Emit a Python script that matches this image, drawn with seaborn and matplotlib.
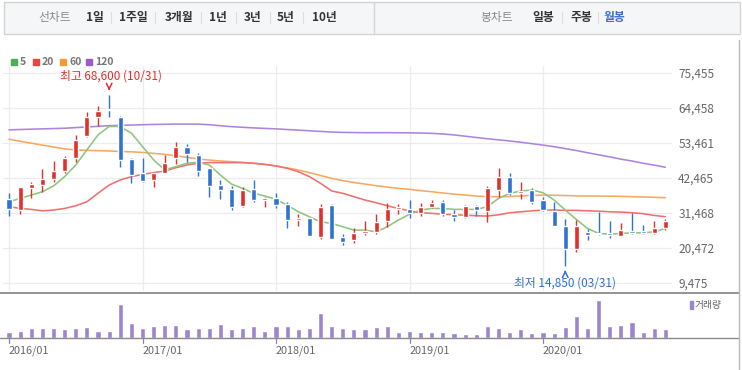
import numpy as np
import pandas as pd
import matplotlib
matplotlib.use("Agg")
import matplotlib.pyplot as plt
import seaborn as sns
from matplotlib.patches import Rectangle
from matplotlib.lines import Line2D

# monthly candles 2016/01 .. 2020/12
months = [str(p).replace("-", "/") for p in pd.period_range("2016-01", "2020-12", freq="M")]

opens = [35750, 32400, 39400, 40250, 42050, 44650, 48650, 55700, 61600, 64000, 61600, 48450,
         44150, 41850, 44150, 48650, 52150, 49700, 45500, 40250, 38900, 33650, 38900, 35550,
         36250, 34250, 29250, 29750, 23950, 33950, 23950, 22900, 25250, 25450, 28900, 32600,
         32600, 31350, 33450, 35000, 31100, 30300, 33650, 32050, 38700, 42900, 37850, 38700,
         35550, 32150, 27450, 20100, 25450, 25250, 25050, 24300, 25850, 25950, 25250, 26800]
highs = [37650, 39750, 41300, 45200, 47950, 49500, 56000, 63150, 64950, 68600, 61800, 48650,
         48900, 44350, 49700, 53900, 53200, 50450, 45700, 41850, 39950, 39750, 41850, 36600,
         37650, 35000, 31100, 29850, 34250, 34250, 24800, 26600, 29000, 31100, 34700, 34250,
         35550, 34700, 35550, 35550, 32400, 33950, 33950, 39950, 45500, 43950, 41300, 39200,
         36600, 35000, 29550, 29250, 26300, 31650, 28900, 28200, 31550, 27850, 29000, 29450]
lows = [30600, 31100, 36050, 38150, 41300, 43950, 47600, 55300, 58650, 61600, 45850, 40800,
        41300, 39500, 43950, 46900, 47600, 43100, 36450, 35750, 32400, 33200, 35000, 33450,
        32900, 26900, 27450, 24200, 23250, 23250, 21550, 22100, 24700, 25000, 27150, 31100,
        30050, 30600, 33100, 30600, 28900, 29950, 30500, 28700, 36450, 37100, 35750, 34250,
        32150, 27450, 14850, 19250, 22900, 24500, 23650, 24200, 25000, 25000, 25000, 26100]
closes = [32600, 39500, 40600, 42050, 44800, 48900, 54450, 61600, 63600, 63700, 48150, 43400,
          41650, 44150, 47100, 52150, 49950, 44800, 39950, 38700, 33450, 38700, 35550, 36150,
          33950, 29250, 30050, 24300, 33450, 23450, 22400, 25250, 25850, 28600, 32600, 33200,
          31550, 33200, 34700, 31100, 30300, 33650, 32400, 39400, 42700, 37850, 38450, 35000,
          32400, 27450, 20300, 27450, 24600, 24800, 24600, 26100, 25250, 25250, 26800, 29000]

# moving averages
ma5 = [35000, 36050, 37100, 38150, 39950, 42900, 46550, 51300, 56000, 58650, 58650, 56550,
       52350, 48150, 45000, 46050, 47100, 47400, 46550, 43400, 40550, 39200, 37650, 36800,
       35750, 33950, 31850, 30300, 28700, 28200, 27150, 26100, 26100, 25550, 27150, 29250,
       31100, 32400, 32900, 32900, 32600, 32600, 32600, 33450, 36050, 37650, 38350, 38700,
       37850, 35550, 32400, 29450, 26600, 25050, 24800, 25050, 25250, 25250, 25550, 26600]
ma20 = [33450, 32900, 32600, 32150, 32400, 32900, 33750, 35000, 37650, 40250, 41850, 42900,
        43600, 44150, 44650, 45700, 46550, 47100, 47300, 47300, 47300, 47300, 47100, 46750,
        46250, 45500, 44450, 42900, 40800, 38400, 37650, 36600, 35550, 34700, 33750, 32900,
        32150, 31550, 31350, 31100, 30900, 30800, 30600, 30500, 30900, 31550, 31850, 32150,
        32400, 32400, 32300, 32300, 32150, 32050, 31850, 31750, 31550, 31250, 30700, 30300]
ma60 = [54650, 54000, 53400, 52800, 52200, 51600, 51300, 51150, 51050, 50950, 50800, 50700,
        50500, 50200, 49900, 49450, 48950, 48450, 48100, 47800, 47600, 47350, 47100, 46700,
        46250, 45650, 45000, 44150, 43250, 42350, 41650, 41050, 40550, 40050, 39600, 39200,
        38900, 38500, 38150, 37750, 37400, 37100, 36800, 36600, 36550, 36650, 36850, 37000,
        37100, 37050, 36950, 36850, 36800, 36780, 36750, 36700, 36600, 36500, 36400, 36270]
ma120 = [57600, 57700, 57800, 57900, 58000, 58100, 58300, 58500, 58700, 58900, 59000, 59100,
         59200, 59300, 59350, 59400, 59400, 59380, 59200, 58900, 58600, 58400, 58200, 58050,
         57900, 57700, 57500, 57300, 57100, 56900, 56800, 56750, 56700, 56700, 56700, 56680,
         56650, 56600, 56500, 56300, 56000, 55600, 55200, 54800, 54450, 54100, 53700, 53250,
         52800, 52300, 51700, 51100, 50400, 49750, 49100, 48400, 47800, 47100, 46500, 45850]

# monthly volume (relative units)
volume = [18, 21, 28, 28, 28, 25, 28, 31, 21, 21, 103, 43,
          28, 35, 37, 37, 25, 28, 28, 41, 25, 28, 35, 21,
          35, 35, 25, 28, 75, 35, 28, 25, 25, 31, 35, 18,
          21, 18, 18, 18, 15, 12, 12, 35, 28, 18, 25, 15,
          18, 15, 31, 65, 28, 115, 35, 38, 47, 18, 28, 25]

price_ticks = [9475, 20472, 31468, 42465, 53461, 64458, 75455]
ma_names = ["5", "20", "60", "120"]
line_tabs = ["1일", "1주일", "3개월", "1년", "3년", "5년", "10년"]
candle_tabs = ["일봉", "주봉", "월봉"]

RED, BLUE = "#e0302c", "#2f72d3"
MA_COLORS = ["#8cc67c", "#ef7070", "#f6a862", "#ad84dc"]
LEGEND_COLORS = ["#4caf50", "#e8483f", "#f39a3a", "#9c5cc4"]
VOL_COLOR = "#9d84cf"

sns.set_style("white")
plt.rcParams["font.family"] = ["Noto Sans CJK KR", "DejaVu Sans"]

W, H = 742, 370
fig = plt.figure(figsize=(W / 100, H / 100), dpi=100)


def fx(x):
    return x / W


def fy(y):
    return 1 - y / H


step = 11.125
x0 = 9
idx = np.arange(len(months))
xlim = ((3 - x0) / step, (672 - x0) / step)
year_idx = [i for i, m in enumerate(months) if m.endswith("/01")]

# price panel
ax = fig.add_axes([fx(3), fy(291), (672 - 3) / W, (291 - 66) / H])
ppx = (75455 - 9475) / 210
ax.set_xlim(*xlim)
ax.set_ylim(9475 - 8 * ppx, 75455 + 7 * ppx)
ax.set_yticks(price_ticks)
ax.set_yticklabels([f"{t:,}" for t in price_ticks], color="#666", fontsize=8.5)
ax.yaxis.tick_right()
ax.tick_params(axis="y", length=0, pad=4.5)
ax.set_xticks([])
ax.grid(axis="y", color="#ececec", lw=0.9)
for i in year_idx:
    ax.axvline(i, color="#ececec", lw=0.9, zorder=0)
sns.despine(ax=ax, left=True, bottom=True, right=True, top=True)

for vals, c in zip([ma120, ma60, ma20, ma5], MA_COLORS[::-1]):
    sns.lineplot(x=idx, y=vals, color=c, lw=1.15, ax=ax, legend=False, zorder=2)

for i in idx:
    o, h, l, c = opens[i], highs[i], lows[i], closes[i]
    col = RED if c > o else BLUE
    ax.vlines(i, l, h, color=col, lw=1, zorder=3)
    ax.bar(i, max(abs(c - o), 330), bottom=min(o, c), width=0.46, color=col, zorder=4)

hi_i = int(np.argmax(highs))
lo_i = int(np.argmin(lows))
ax.annotate("", xy=(hi_i, highs[hi_i] + 1.5 * ppx), xytext=(hi_i, highs[hi_i] + 10 * ppx),
            arrowprops=dict(arrowstyle="->", color=RED, lw=1.1))
ax.text(hi_i + 0.2, highs[hi_i] + 18.5 * ppx, f"최고 {highs[hi_i]:,} (10/31)", color=RED,
        fontsize=8.5, ha="center", va="center")
ax.annotate("", xy=(lo_i, lows[lo_i] - 1.5 * ppx), xytext=(lo_i, lows[lo_i] - 9 * ppx),
            arrowprops=dict(arrowstyle="->", color=BLUE, lw=1.1))
ax.text(lo_i, lows[lo_i] - 17.5 * ppx, f"최저 {lows[lo_i]:,} (03/31)", color=BLUE,
        fontsize=8.5, ha="center", va="center")

# volume panel
vax = fig.add_axes([fx(3), fy(337.5), (672 - 3) / W, (337.5 - 296) / H])
sns.barplot(x=idx, y=volume, color=VOL_COLOR, saturation=1, width=0.46,
            native_scale=True, ax=vax)
vax.set_xlim(*xlim)
vax.set_ylim(0, 126)
vax.set_xticks([])
vax.set_yticks([])
vax.set_xlabel("")
vax.set_ylabel("")
for s in vax.spines.values():
    s.set_visible(False)

# frame lines
fig.add_artist(Line2D([0, fx(739)], [fy(293), fy(293)], color="#8a8a8a", lw=1.3))
fig.add_artist(Line2D([0, fx(739)], [fy(338), fy(338)], color="#8a8a8a", lw=1))
fig.add_artist(Line2D([fx(739), fx(739)], [fy(40), 0], color="#b8b8b8", lw=1))
for i in year_idx:
    xp = x0 + i * step
    fig.add_artist(Line2D([fx(xp), fx(xp)], [fy(338), fy(343)], color="#8a8a8a", lw=0.9))
    fig.text(fx(xp), fy(351), months[i], color="#666", fontsize=7.8, ha="left", va="center")

fig.add_artist(Rectangle((fx(690), fy(309)), 2.5 / W, 8 / H, color=VOL_COLOR))
fig.text(fx(695), fy(305), "거래량", color="#666", fontsize=7, ha="left", va="center")

# toolbar
fig.add_artist(Rectangle((fx(4), fy(34)), 736 / W, 32 / H, fc="#f5f6f8", ec="#d4d4d4", lw=1))
fig.add_artist(Line2D([fx(374), fx(374)], [fy(2), fy(34)], color="#d4d4d4", lw=1))
fig.text(fx(55), fy(17), "선차트", color="#8a8a8a", fontsize=8.5, ha="center", va="center")
tab_x = [95, 133, 179, 218, 253, 286, 324]
for k, (t, xp) in enumerate(zip(line_tabs, tab_x)):
    fig.text(fx(xp), fy(17), t, color="#333", fontsize=8.5, fontweight="bold", ha="center", va="center")
sep_x = [111, 155, 201, 236, 270, 303]
for sx in sep_x:
    fig.add_artist(Line2D([fx(sx), fx(sx)], [fy(12), fy(23)], color="#dddddd", lw=0.8))
fig.text(fx(497), fy(17), "봉차트", color="#8a8a8a", fontsize=8.5, ha="center", va="center")
ctab_x = [543, 581, 614]
for t, xp in zip(candle_tabs, ctab_x):
    col = "#3a6fd0" if t == "월봉" else "#333"
    fig.text(fx(xp), fy(17), t, color=col, fontsize=8.5, fontweight="bold", ha="center", va="center")
for sx in [562, 598]:
    fig.add_artist(Line2D([fx(sx), fx(sx)], [fy(12), fy(23)], color="#dddddd", lw=0.8))

# MA legend
leg_x = [11, 33, 60, 86]
for name, c, xp in zip(ma_names, LEGEND_COLORS, leg_x):
    fig.add_artist(Rectangle((fx(xp), fy(65)), 6 / W, 6 / H, color=c))
    fig.text(fx(xp + 9), fy(62), name, color="#777", fontsize=7.5, fontweight="bold",
             ha="left", va="center")

fig.savefig("out.png", dpi=100)
